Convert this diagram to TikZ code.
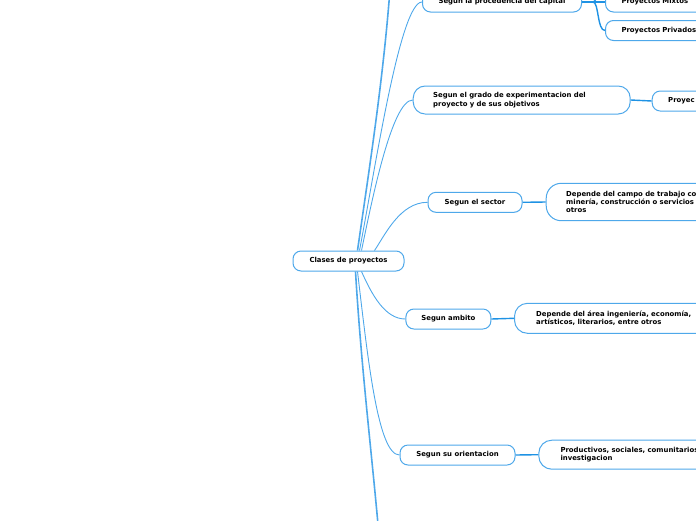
\documentclass[tikz,border=0pt]{standalone}
\usepackage{fontspec}
\setmainfont{DejaVu Sans}
\usepackage{tikz}
\definecolor{mmblue}{RGB}{30,146,228}
\definecolor{mmlight}{RGB}{78,168,234}

\begin{document}
\begin{tikzpicture}[x=1pt,y=-1pt,
  box/.style={draw=mmlight, line width=1pt, rounded corners=8pt, fill=white,
    minimum height=20pt, inner xsep=0pt, inner ysep=2pt, align=center,
    font=\bfseries\fontsize{6.9}{8.4}\selectfont},
  leaf/.style={box, anchor=west, align=left, inner xsep=16pt, text width=200pt},
  branch/.style={draw=mmlight, line width=0.9pt},
  link/.style={draw=mmblue, line width=1.4pt}]
\useasboundingbox (0,0) rectangle (696,520);
\clip (0,0) rectangle (696,520);

\coordinate (up) at (392,-40);
\coordinate (down) at (381,560);
\coordinate (pub) at (605,-26);
\coordinate (fork) at (593,2);

\node[box, minimum width=111pt] (root) at (348.5,261) {Clases de proyectos};
\node[box, minimum width=159pt, anchor=west] (capital) at (422,2) {Segun la procedencia del capital};
\node[leaf] (mixtos) at (605,2) {Proyectos Mixtos};
\node[leaf] (privados) at (605,30.5) {Proyectos Privados};
\node[leaf, text width=177pt, inner xsep=20pt, minimum height=28pt, rounded corners=12pt] (grado) at (412.7,100)
  {Segun el grado de experimentacion del\\proyecto y de sus objetivos};
\node[leaf] (proyec) at (651.7,101) {Proyec};
\node[box, minimum width=94pt] (sector) at (475,202.3) {Segun el sector};
\node[leaf, inner xsep=20pt, minimum height=37.4pt, rounded corners=15pt] (campo) at (545.7,202)
  {Depende del campo de trabajo co\\miner\'ia, construcci\'on o servicios\\otros};
\node[box, minimum width=85pt] (ambito) at (448.4,319) {Segun ambito};
\node[leaf, inner xsep=21.7pt, minimum height=30pt, rounded corners=13pt] (area) at (514,318.3)
  {Depende del \'area ingenier\'ia, econom\'ia,\\art\'isticos, literarios, entre otros};
\node[box, minimum width=115pt] (orient) at (457.5,455) {Segun su orientacion};
\node[leaf, inner xsep=21.7pt, minimum height=29pt, rounded corners=13pt] (prod) at (538.3,454.7)
  {Productivos, sociales, comunitarios\\investigacion};

\begin{scope}[on background layer/.try]
\draw[branch, line width=1.6pt] ([xshift=9pt]root.north) .. controls (372,150) and (386,60) .. (up);
\draw[branch] ([xshift=11pt]root.north) .. controls (375,170) and (400,2) .. (capital.west);
\draw[branch] ([xshift=13pt]root.north) .. controls (372,200) and (392,100) .. (grado.west);
\draw[branch] ([xshift=26pt]root.north) .. controls (385,235) and (400,202.3) .. (sector.west);
\draw[branch] ([xshift=13pt]root.south) .. controls (372,295) and (385,319) .. (ambito.west);
\draw[branch] ([xshift=9pt]root.south) .. controls (368,360) and (378,455) .. (orient.west);
\draw[branch, line width=1.6pt] ([xshift=7pt]root.south) .. controls (362,380) and (374,470) .. (down);
\end{scope}

\draw[link] (capital.east) -- (fork) -- (mixtos.west);
\draw[link] (fork) .. controls (599,2) and (597,30.5) .. (privados.west);
\draw[link] (fork) .. controls (599,2) and (597,-26) .. (pub);
\draw[link] (grado.east) -- (proyec.west);
\draw[link] (sector.east) -- (campo.west);
\draw[link] (ambito.east) -- (area.west);
\draw[link] (orient.east) -- (prod.west);
\end{tikzpicture}
\end{document}
